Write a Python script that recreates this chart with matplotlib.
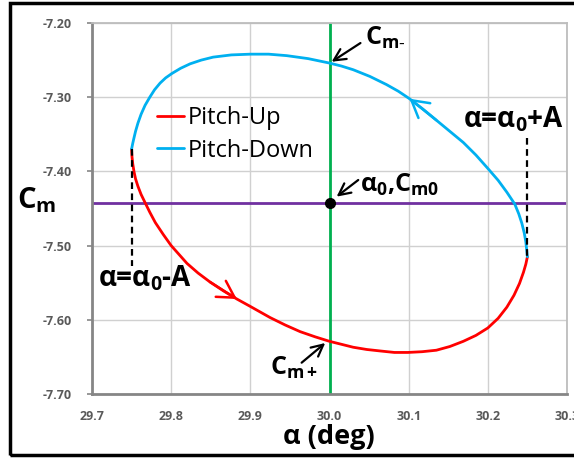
import matplotlib
matplotlib.use("Agg")
import matplotlib.pyplot as plt
from matplotlib.patches import Rectangle

plt.rcParams['font.family'] = ['Open Sans', 'DejaVu Sans']
plt.rcParams['mathtext.fontset'] = 'custom'
plt.rcParams['mathtext.rm'] = 'Open Sans'
plt.rcParams['mathtext.it'] = 'Open Sans:italic'
plt.rcParams['mathtext.bf'] = 'Open Sans:bold'

# Pitch-Up branch
alpha_up = [29.750, 29.7505, 29.7515, 29.753, 29.755, 29.758, 29.762, 29.767, 29.773, 29.780,
            29.790, 29.800, 29.810, 29.820, 29.834, 29.849, 29.866, 29.883, 29.900, 29.925,
            29.944, 29.963, 29.982, 30.000, 30.015, 30.030, 30.047, 30.064, 30.082, 30.099,
            30.117, 30.135, 30.152, 30.169, 30.185, 30.200, 30.213, 30.224, 30.233, 30.240,
            30.245, 30.248, 30.250]
cm_up = [-7.370, -7.380, -7.390, -7.400, -7.410, -7.420, -7.431, -7.442, -7.455, -7.469,
         -7.485, -7.500, -7.512, -7.524, -7.537, -7.549, -7.561, -7.572, -7.582, -7.597,
         -7.607, -7.616, -7.623, -7.629, -7.633, -7.637, -7.640, -7.642, -7.644, -7.644,
         -7.643, -7.641, -7.636, -7.629, -7.621, -7.611, -7.598, -7.583, -7.567, -7.551,
         -7.536, -7.525, -7.515]

# Pitch-Down branch
alpha_down = [30.250, 30.249, 30.248, 30.246, 30.243, 30.239, 30.234, 30.224, 30.213, 30.200,
              30.185, 30.169, 30.152, 30.135, 30.118, 30.101, 30.087, 30.072, 30.051, 30.030,
              30.015, 30.000, 29.973, 29.946, 29.923, 29.900, 29.876, 29.853, 29.838, 29.824,
              29.812, 29.801, 29.793, 29.786, 29.779, 29.773, 29.767, 29.762, 29.758, 29.755,
              29.753, 29.7515, 29.750]
cm_down = [-7.515, -7.505, -7.495, -7.483, -7.470, -7.457, -7.444, -7.428, -7.412, -7.396,
           -7.378, -7.361, -7.346, -7.331, -7.316, -7.302, -7.292, -7.283, -7.272, -7.263,
           -7.258, -7.254, -7.248, -7.244, -7.242, -7.242, -7.243, -7.246, -7.250, -7.255,
           -7.261, -7.268, -7.274, -7.281, -7.290, -7.300, -7.311, -7.323, -7.335, -7.346,
           -7.355, -7.362, -7.370]

alpha0 = 30.0
cm0 = -7.442
amp = 0.25

xticks = [29.7, 29.8, 29.9, 30.0, 30.1, 30.2, 30.3]
yticks = [-7.20, -7.30, -7.40, -7.50, -7.60, -7.70]

red = '#ff0000'
blue = '#00b0f0'

fig = plt.figure(figsize=(5.74, 4.62), dpi=100)
ax = fig.add_axes([92/574, 68/462, 475/574, 371/462])

ax.set_xlim(29.7, 30.3)
ax.set_ylim(-7.70, -7.20)
ax.set_xticks(xticks)
ax.set_yticks(yticks)
ax.set_xticklabels(['%.1f' % v for v in xticks])
ax.set_yticklabels(['%.2f' % v for v in yticks])
ax.grid(True, color='#d0d0d0', lw=1)
ax.set_axisbelow(True)
for s in ['left', 'bottom']:
    ax.spines[s].set_color('#868686')
    ax.spines[s].set_linewidth(2)
for s in ['top', 'right']:
    ax.spines[s].set_color('#bdbdbd')
    ax.spines[s].set_linewidth(1.3)
ax.tick_params(axis='y', length=3.5, width=1.2, color='#868686', pad=11, labelsize=9, labelcolor='#595959')
ax.tick_params(axis='x', length=0, pad=11.5, labelsize=9, labelcolor='#595959')
for t in ax.get_xticklabels() + ax.get_yticklabels():
    t.set_fontweight('bold')

ax.axhline(cm0, color='#7030a0', lw=2, zorder=2)
ax.axvline(alpha0, color='#00b050', lw=2, zorder=2)

ax.plot(alpha_up, cm_up, color=red, lw=2, label='Pitch-Up', zorder=4, solid_capstyle='round')
ax.plot(alpha_down, cm_down, color=blue, lw=2, label='Pitch-Down', zorder=4, solid_capstyle='round')

# direction chevrons
chev = '->,head_length=0.7,head_width=0.4'
ax.annotate('', xy=(alpha_up[17], cm_up[17]), xytext=(alpha_up[15], cm_up[15]),
            arrowprops=dict(arrowstyle=chev, color=red, lw=1.8, mutation_scale=17,
                            shrinkA=0, shrinkB=0), zorder=5)
ax.annotate('', xy=(alpha_down[15], cm_down[15]), xytext=(alpha_down[13], cm_down[13]),
            arrowprops=dict(arrowstyle=chev, color=blue, lw=1.8, mutation_scale=17,
                            shrinkA=0, shrinkB=0), zorder=5)

# amplitude markers
ax.plot([alpha0 - amp, alpha0 - amp], [-7.370, -7.527], color='black', ls=(0, (3, 2)), lw=1.6, zorder=5)
ax.plot([alpha0 + amp, alpha0 + amp], [-7.355, -7.515], color='black', ls=(0, (3, 2)), lw=1.6, zorder=5)
ax.text(29.7076, -7.555, r'α=α$_{\mathbf{0}}$-A', fontsize=20, fontweight='bold', va='baseline', ha='left')
ax.text(30.2965, -7.3415, r'α=α$_{\mathbf{0}}$+A', fontsize=20, fontweight='bold', va='baseline', ha='right')

ax.plot([alpha0], [cm0], 'o', color='black', ms=7, zorder=6)

arrow_kw = dict(arrowstyle='->,head_length=0.6,head_width=0.3', color='black', lw=1.6,
                mutation_scale=14, shrinkA=0, shrinkB=0)
ax.annotate('', xy=(30.0027, -7.2522), xytext=(30.0391, -7.227), arrowprops=arrow_kw, zorder=6)
ax.text(30.0447, -7.2297, r'C$_{\mathbf{m}\text{-}}$', fontsize=18, fontweight='bold', va='baseline', ha='left')
ax.annotate('', xy=(30.009, -7.434), xytext=(30.0363, -7.4116), arrowprops=arrow_kw, zorder=6)
ax.text(30.038, -7.427, r'α$_{\mathbf{0}}$,C$_{\mathbf{m0}}$', fontsize=18, fontweight='bold',
        va='baseline', ha='left')
ax.annotate('', xy=(29.9946, -7.6313), xytext=(29.9648, -7.6578), arrowprops=arrow_kw, zorder=6)
ax.text(29.9247, -7.6744, r'C$_{\mathbf{m+}}$', fontsize=18, fontweight='bold', va='baseline', ha='left')

ax.legend(loc='upper left', bbox_to_anchor=(0.137, 0.776), frameon=False, fontsize=17,
          handlelength=1.15, handletextpad=0.15, labelspacing=0.36, borderaxespad=0, borderpad=0)

fig.text(17/574, (462 - 208)/462, r'C$_{\mathbf{m}}$', fontsize=21, fontweight='bold', va='baseline', ha='left')
fig.text(329/574, (462 - 444)/462, 'α (deg)', fontsize=19.5, fontweight='bold', va='baseline', ha='center')

fig.patches.append(Rectangle((10/574, 7/462), 1.2, 452/462, transform=fig.transFigure,
                             fill=False, edgecolor='black', lw=2.5))

fig.savefig('out.png', dpi=100)
